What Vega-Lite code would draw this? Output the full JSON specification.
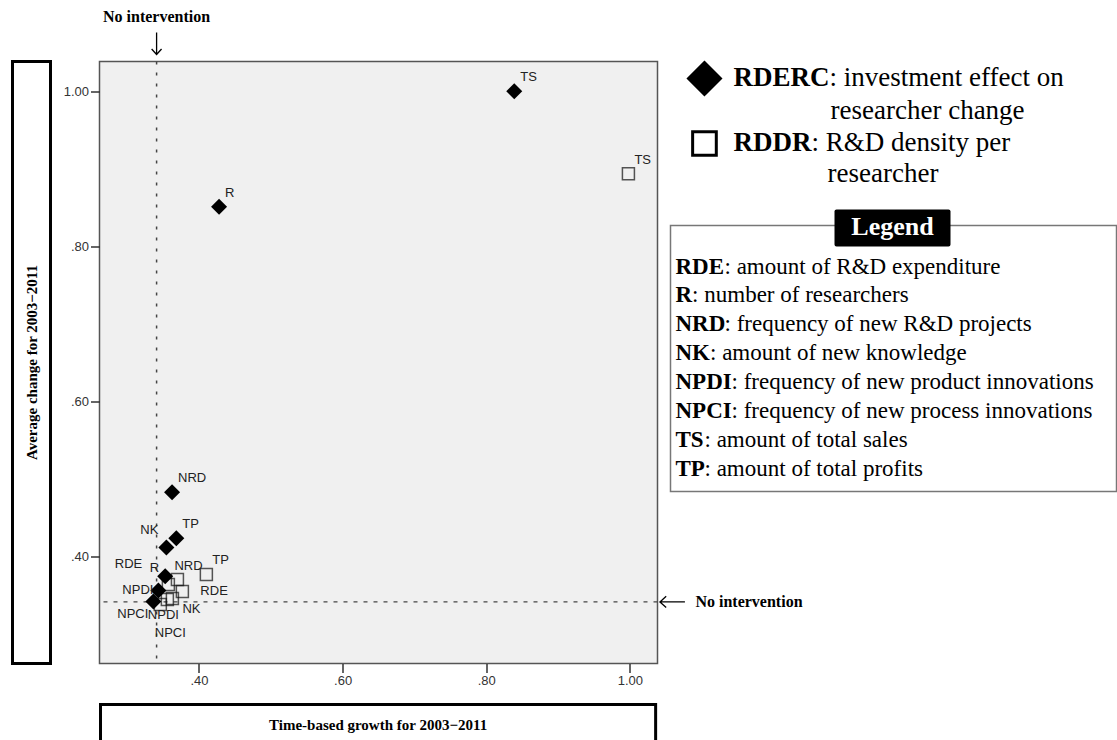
{
  "$schema": "https://vega.github.io/schema/vega-lite/v6.json",
  "padding": {"left": 10.5, "top": 7.5, "right": 0, "bottom": 0},
  "background": "white",
  "config": {
    "view": {"stroke": null},
    "axis": {"domain": false, "grid": false, "tickSize": 9, "labelPadding": 2, "labelFont": "Liberation Sans", "labelFontSize": 13, "labelColor": "#333", "tickColor": "#333", "tickWidth": 1.5}
  },
  "datasets": {
    "pts": [
      {"series": "RDERC", "key": "TS", "x": 0.839, "y": 1.0},
      {"series": "RDERC", "key": "R", "x": 0.428, "y": 0.851},
      {"series": "RDERC", "key": "NRD", "x": 0.3625, "y": 0.4826},
      {"series": "RDERC", "key": "TP", "x": 0.3685, "y": 0.4232},
      {"series": "RDERC", "key": "NK", "x": 0.3546, "y": 0.4112},
      {"series": "RDERC", "key": "RDE", "x": 0.353, "y": 0.374},
      {"series": "RDERC", "key": "NPDI", "x": 0.3435, "y": 0.3557},
      {"series": "RDERC", "key": "NPCI", "x": 0.3365, "y": 0.3415},
      {"series": "RDDR", "key": "TS", "x": 0.998, "y": 0.8935},
      {"series": "RDDR", "key": "TP", "x": 0.4103, "y": 0.3764},
      {"series": "RDDR", "key": "NRD", "x": 0.37, "y": 0.37},
      {"series": "RDDR", "key": "RDE", "x": 0.3769, "y": 0.3545},
      {"series": "RDDR", "key": "NK", "x": 0.363, "y": 0.3454},
      {"series": "RDDR", "key": "R", "x": 0.3574, "y": 0.3634},
      {"series": "RDDR", "key": "NPDI", "x": 0.356, "y": 0.3441},
      {"series": "RDDR", "key": "NPCI", "x": 0.3462, "y": 0.3377}
    ],
    "keyleg": [
      {"series": "RDERC", "row": 1, "key": "RDERC", "desc": ": investment effect on", "desc2": "researcher change"},
      {"series": "RDDR", "row": 2, "key": "RDDR", "desc": ": R&D density per", "desc2": "researcher"}
    ],
    "abbr": [
      {"row": 1, "key": "RDE", "desc": ": amount of R&D expenditure"},
      {"row": 2, "key": "R", "desc": ": number of researchers"},
      {"row": 3, "key": "NRD", "desc": ": frequency of new R&D projects"},
      {"row": 4, "key": "NK", "desc": ": amount of new knowledge"},
      {"row": 5, "key": "NPDI", "desc": ": frequency of new product innovations"},
      {"row": 6, "key": "NPCI", "desc": ": frequency of new process innovations"},
      {"row": 7, "key": "TS", "desc": ": amount of total sales"},
      {"row": 8, "key": "TP", "desc": ": amount of total profits"}
    ]
  },
  "spacing": 49,
  "bounds": "flush",
  "hconcat": [
    {
      "width": 38, "height": 602,
      "view": {"stroke": "black", "strokeWidth": 3},
      "data": {"values": [{"t": "Average change for 2003−2011"}]},
      "mark": {"type": "text", "angle": 270, "font": "Liberation Serif", "fontWeight": "bold", "fontSize": 15, "align": "center", "baseline": "middle", "color": "black"},
      "encoding": {
        "text": {"field": "t"},
        "x": {"datum": 0.5, "type": "quantitative", "scale": {"domain": [0, 1]}, "axis": null},
        "y": {"datum": 0.5, "type": "quantitative", "scale": {"domain": [0, 1]}, "axis": null}
      }
    },
    {
      "spacing": 13,
      "bounds": "flush",
      "hconcat": [
        {
          "width": 558, "height": 602,
          "view": {"fill": "#f0f0f0", "stroke": "#555", "strokeWidth": 1.5},
          "layer": [
            {
              "data": {"values": [{}]},
              "mark": {"type": "rule", "strokeDash": [3, 8], "color": "#444", "strokeWidth": 1.5},
              "encoding": {"x": {"datum": 0.341, "type": "quantitative", "scale": {"domain": [0.2615, 1.0385], "nice": false, "zero": false}, "axis": {"values": [0.4, 0.6, 0.8, 1.0], "labelExpr": "datum.value < 0.999 ? replace(format(datum.value, '.2f'), '0.', '.') : format(datum.value, '.2f')", "title": null}}}
            },
            {
              "data": {"values": [{}]},
              "mark": {"type": "rule", "strokeDash": [4, 6], "color": "#444", "strokeWidth": 1.3},
              "encoding": {"y": {"datum": 0.341, "type": "quantitative", "scale": {"domain": [0.2615, 1.0385], "nice": false, "zero": false}, "axis": {"values": [0.4, 0.6, 0.8, 1.0], "labelExpr": "datum.value < 0.999 ? replace(format(datum.value, '.2f'), '0.', '.') : format(datum.value, '.2f')", "title": null}}}
            },
            {
              "data": {"name": "pts"},
              "transform": [{"filter": "datum.series == 'RDDR'"}],
              "mark": {"type": "point", "shape": "square", "filled": false, "size": 144, "stroke": "#111", "strokeWidth": 1.5},
              "encoding": {
                "x": {"field": "x", "type": "quantitative"},
                "y": {"field": "y", "type": "quantitative"}
              }
            },
            {
              "data": {"name": "pts"},
              "transform": [{"filter": "datum.series == 'RDERC'"}],
              "mark": {"type": "point", "shape": "diamond", "filled": true, "size": 256, "color": "black", "opacity": 1},
              "encoding": {
                "x": {"field": "x", "type": "quantitative"},
                "y": {"field": "y", "type": "quantitative"}
              }
            },
            {
              "data": {"name": "pts"},
              "transform": [{"filter": "datum.key == 'TS' || (datum.series == 'RDERC' && (datum.key == 'R' || datum.key == 'NRD' || datum.key == 'TP')) || (datum.series == 'RDDR' && datum.key == 'TP')"}],
              "mark": {"type": "text", "font": "Liberation Sans", "fontSize": 13, "color": "#222", "align": "left", "baseline": "middle", "dx": 6, "dy": -14},
              "encoding": {"x": {"field": "x", "type": "quantitative"}, "y": {"field": "y", "type": "quantitative"}, "text": {"field": "key"}}
            },
            {
              "data": {"name": "pts"},
              "transform": [{"filter": "datum.series == 'RDERC' && datum.key == 'NK'"}],
              "mark": {"type": "text", "font": "Liberation Sans", "fontSize": 13, "color": "#222", "align": "right", "baseline": "middle", "dx": -8, "dy": -18},
              "encoding": {"x": {"field": "x", "type": "quantitative"}, "y": {"field": "y", "type": "quantitative"}, "text": {"field": "key"}}
            },
            {
              "data": {"name": "pts"},
              "transform": [{"filter": "datum.series == 'RDERC' && datum.key == 'RDE'"}],
              "mark": {"type": "text", "font": "Liberation Sans", "fontSize": 13, "color": "#222", "align": "right", "baseline": "middle", "dx": -23, "dy": -12},
              "encoding": {"x": {"field": "x", "type": "quantitative"}, "y": {"field": "y", "type": "quantitative"}, "text": {"field": "key"}}
            },
            {
              "data": {"name": "pts"},
              "transform": [{"filter": "datum.series == 'RDDR' && datum.key == 'R'"}],
              "mark": {"type": "text", "font": "Liberation Sans", "fontSize": 13, "color": "#222", "align": "center", "baseline": "middle", "dx": -14, "dy": -17},
              "encoding": {"x": {"field": "x", "type": "quantitative"}, "y": {"field": "y", "type": "quantitative"}, "text": {"field": "key"}}
            },
            {
              "data": {"name": "pts"},
              "transform": [{"filter": "datum.series == 'RDDR' && datum.key == 'NRD'"}],
              "mark": {"type": "text", "font": "Liberation Sans", "fontSize": 13, "color": "#222", "align": "left", "baseline": "middle", "dx": -3, "dy": -13},
              "encoding": {"x": {"field": "x", "type": "quantitative"}, "y": {"field": "y", "type": "quantitative"}, "text": {"field": "key"}}
            },
            {
              "data": {"name": "pts"},
              "transform": [{"filter": "datum.series == 'RDDR' && datum.key == 'RDE'"}],
              "mark": {"type": "text", "font": "Liberation Sans", "fontSize": 13, "color": "#222", "align": "left", "baseline": "middle", "dx": 18, "dy": 0},
              "encoding": {"x": {"field": "x", "type": "quantitative"}, "y": {"field": "y", "type": "quantitative"}, "text": {"field": "key"}}
            },
            {
              "data": {"name": "pts"},
              "transform": [{"filter": "datum.series == 'RDDR' && datum.key == 'NK'"}],
              "mark": {"type": "text", "font": "Liberation Sans", "fontSize": 13, "color": "#222", "align": "left", "baseline": "middle", "dx": 10, "dy": 11},
              "encoding": {"x": {"field": "x", "type": "quantitative"}, "y": {"field": "y", "type": "quantitative"}, "text": {"field": "key"}}
            },
            {
              "data": {"name": "pts"},
              "transform": [{"filter": "datum.series == 'RDERC' && datum.key == 'NPDI'"}],
              "mark": {"type": "text", "font": "Liberation Sans", "fontSize": 13, "color": "#222", "align": "right", "baseline": "middle", "dx": -5, "dy": -1},
              "encoding": {"x": {"field": "x", "type": "quantitative"}, "y": {"field": "y", "type": "quantitative"}, "text": {"field": "key"}}
            },
            {
              "data": {"name": "pts"},
              "transform": [{"filter": "datum.series == 'RDERC' && datum.key == 'NPCI'"}],
              "mark": {"type": "text", "font": "Liberation Sans", "fontSize": 13, "color": "#222", "align": "right", "baseline": "middle", "dx": -5, "dy": 12},
              "encoding": {"x": {"field": "x", "type": "quantitative"}, "y": {"field": "y", "type": "quantitative"}, "text": {"field": "key"}}
            },
            {
              "data": {"name": "pts"},
              "transform": [{"filter": "datum.series == 'RDDR' && datum.key == 'NPDI'"}],
              "mark": {"type": "text", "font": "Liberation Sans", "fontSize": 13, "color": "#222", "align": "center", "baseline": "middle", "dx": -4, "dy": 15},
              "encoding": {"x": {"field": "x", "type": "quantitative"}, "y": {"field": "y", "type": "quantitative"}, "text": {"field": "key"}}
            },
            {
              "data": {"name": "pts"},
              "transform": [{"filter": "datum.series == 'RDDR' && datum.key == 'NPCI'"}],
              "mark": {"type": "text", "font": "Liberation Sans", "fontSize": 13, "color": "#222", "align": "center", "baseline": "middle", "dx": 10, "dy": 29},
              "encoding": {"x": {"field": "x", "type": "quantitative"}, "y": {"field": "y", "type": "quantitative"}, "text": {"field": "key"}}
            },
            {
              "data": {"values": [{"t": "No intervention"}]},
              "mark": {"type": "text", "font": "Liberation Serif", "fontWeight": "bold", "fontSize": 16, "color": "black", "align": "center", "baseline": "middle", "dy": -45},
              "encoding": {"x": {"datum": 0.341, "type": "quantitative"}, "y": {"datum": 1.0385, "type": "quantitative"}, "text": {"field": "t"}}
            },
            {
              "data": {"values": [{"t": "No intervention"}]},
              "mark": {"type": "text", "font": "Liberation Serif", "fontWeight": "bold", "fontSize": 16, "color": "black", "align": "left", "baseline": "middle", "dx": 23},
              "encoding": {"x": {"datum": 1.0593, "type": "quantitative"}, "y": {"datum": 0.341, "type": "quantitative"}, "text": {"field": "t"}}
            },
            {
              "data": {"values": [{}]},
              "mark": {"type": "point", "shape": "M0,-1L0,1M-0.45,0.5L0,1L0.45,0.5", "filled": false, "size": 484, "stroke": "black", "strokeWidth": 1.3, "opacity": 1},
              "encoding": {"x": {"datum": 0.341, "type": "quantitative"}, "y": {"datum": 1.0617, "type": "quantitative"}}
            },
            {
              "data": {"values": [{}]},
              "mark": {"type": "point", "shape": "M1,0L-1,0M-0.5,-0.45L-1,0L-0.5,0.45", "filled": false, "size": 625, "stroke": "black", "strokeWidth": 1.3, "opacity": 1},
              "encoding": {"x": {"datum": 1.0593, "type": "quantitative"}, "y": {"datum": 0.341, "type": "quantitative"}}
            },
            {
              "data": {"values": [{}]},
              "mark": {"type": "rect", "filled": false, "stroke": "black", "strokeWidth": 3},
              "encoding": {
                "x": {"datum": 0.2629, "type": "quantitative"},
                "x2": {"datum": 1.0359},
                "y": {"datum": 0.2085, "type": "quantitative"},
                "y2": {"datum": 0.135}
              }
            },
            {
              "data": {"values": [{"t": "Time-based growth for 2003−2011"}]},
              "mark": {"type": "text", "font": "Liberation Serif", "fontWeight": "bold", "fontSize": 15, "align": "center", "baseline": "middle", "color": "black"},
              "encoding": {
                "text": {"field": "t"},
                "x": {"datum": 0.6494, "type": "quantitative"},
                "y": {"datum": 0.1815, "type": "quantitative"}
              }
            }
          ]
        },
        {
          "width": 447, "height": 430,
          "resolve": {"scale": {"y": "independent"}},
          "layer": [
            {
              "data": {"name": "keyleg"},
              "transform": [{"filter": "datum.series == 'RDERC'"}],
              "mark": {"type": "point", "shape": "diamond", "filled": true, "size": 1300, "color": "black", "opacity": 1},
              "encoding": {
                "x": {"datum": 0.076, "type": "quantitative", "scale": {"domain": [0, 1]}, "axis": null},
                "y": {"field": "row", "type": "quantitative", "scale": {"domain": [0.7385, 7.354], "reverse": true, "nice": false, "zero": false}, "axis": null}
              }
            },
            {
              "data": {"name": "keyleg"},
              "transform": [{"filter": "datum.series == 'RDDR'"}],
              "mark": {"type": "point", "shape": "square", "filled": false, "size": 560, "stroke": "black", "strokeWidth": 3, "opacity": 1},
              "encoding": {
                "x": {"datum": 0.076, "type": "quantitative", "scale": {"domain": [0, 1]}, "axis": null},
                "y": {"field": "row", "type": "quantitative", "scale": {"domain": [0.7385, 7.354], "reverse": true, "nice": false, "zero": false}, "axis": null}
              }
            },
            {
              "data": {"name": "keyleg"},
              "mark": {"type": "text", "font": "Liberation Serif", "fontWeight": "bold", "fontSize": 27, "color": "black", "align": "left", "baseline": "middle", "dx": 63},
              "encoding": {
                "x": {"datum": 0, "type": "quantitative", "scale": {"domain": [0, 1]}, "axis": null},
                "y": {"field": "row", "type": "quantitative", "scale": {"domain": [0.7385, 7.354], "reverse": true, "nice": false, "zero": false}, "axis": null},
                "text": {"field": "key"}
              }
            },
            {
              "data": {"name": "keyleg"},
              "transform": [{"filter": "datum.series == 'RDERC'"}],
              "mark": {"type": "text", "font": "Liberation Serif", "fontSize": 27, "color": "black", "align": "left", "baseline": "middle", "dx": 159},
              "encoding": {
                "x": {"datum": 0, "type": "quantitative", "scale": {"domain": [0, 1]}, "axis": null},
                "y": {"field": "row", "type": "quantitative", "scale": {"domain": [0.7385, 7.354], "reverse": true, "nice": false, "zero": false}, "axis": null},
                "text": {"field": "desc"}
              }
            },
            {
              "data": {"name": "keyleg"},
              "transform": [{"filter": "datum.series == 'RDDR'"}],
              "mark": {"type": "text", "font": "Liberation Serif", "fontSize": 27, "color": "black", "align": "left", "baseline": "middle", "dx": 141},
              "encoding": {
                "x": {"datum": 0, "type": "quantitative", "scale": {"domain": [0, 1]}, "axis": null},
                "y": {"field": "row", "type": "quantitative", "scale": {"domain": [0.7385, 7.354], "reverse": true, "nice": false, "zero": false}, "axis": null},
                "text": {"field": "desc"}
              }
            },
            {
              "data": {"name": "keyleg"},
              "transform": [{"filter": "datum.series == 'RDERC'"}],
              "mark": {"type": "text", "font": "Liberation Serif", "fontSize": 27, "color": "black", "align": "left", "baseline": "middle", "dx": 160, "dy": 33},
              "encoding": {
                "x": {"datum": 0, "type": "quantitative", "scale": {"domain": [0, 1]}, "axis": null},
                "y": {"field": "row", "type": "quantitative", "scale": {"domain": [0.7385, 7.354], "reverse": true, "nice": false, "zero": false}, "axis": null},
                "text": {"field": "desc2"}
              }
            },
            {
              "data": {"name": "keyleg"},
              "transform": [{"filter": "datum.series == 'RDDR'"}],
              "mark": {"type": "text", "font": "Liberation Serif", "fontSize": 27, "color": "black", "align": "left", "baseline": "middle", "dx": 157, "dy": 31},
              "encoding": {
                "x": {"datum": 0, "type": "quantitative", "scale": {"domain": [0, 1]}, "axis": null},
                "y": {"field": "row", "type": "quantitative", "scale": {"domain": [0.7385, 7.354], "reverse": true, "nice": false, "zero": false}, "axis": null},
                "text": {"field": "desc2"}
              }
            },
            {
              "data": {"values": [{}]},
              "mark": {"type": "rect", "filled": false, "stroke": "#777", "strokeWidth": 1.5},
              "encoding": {
                "x": {"datum": 0, "type": "quantitative", "scale": {"domain": [0, 1]}, "axis": null},
                "x2": {"datum": 0.9978},
                "y": {"datum": -0.4187, "type": "quantitative", "scale": {"domain": [-6.0934, 8.785], "reverse": true, "nice": false, "zero": false}, "axis": null},
                "y2": {"datum": 8.785}
              }
            },
            {
              "data": {"values": [{}]},
              "mark": {"type": "rect", "color": "black", "cornerRadius": 2},
              "encoding": {
                "x": {"datum": 0.3669, "type": "quantitative", "scale": {"domain": [0, 1]}, "axis": null},
                "x2": {"datum": 0.6264},
                "y": {"datum": -0.972, "type": "quantitative", "scale": {"domain": [-6.0934, 8.785], "reverse": true, "nice": false, "zero": false}, "axis": null},
                "y2": {"datum": 0.308}
              }
            },
            {
              "data": {"values": [{"t": "Legend"}]},
              "mark": {"type": "text", "font": "Liberation Serif", "fontWeight": "bold", "fontSize": 26, "color": "white", "align": "center", "baseline": "middle"},
              "encoding": {
                "x": {"datum": 0.4966, "type": "quantitative", "scale": {"domain": [0, 1]}, "axis": null},
                "y": {"datum": -0.35, "type": "quantitative", "scale": {"domain": [-6.0934, 8.785], "reverse": true, "nice": false, "zero": false}, "axis": null},
                "text": {"field": "t"}
              }
            },
            {
              "data": {"name": "abbr"},
              "mark": {"type": "text", "font": "Liberation Serif", "fontWeight": "bold", "fontSize": 23, "color": "black", "align": "left", "baseline": "middle", "dx": 5},
              "encoding": {
                "x": {"datum": 0, "type": "quantitative", "scale": {"domain": [0, 1]}, "axis": null},
                "y": {"field": "row", "type": "quantitative", "scale": {"domain": [-6.0934, 8.785], "reverse": true, "nice": false, "zero": false}, "axis": null},
                "text": {"field": "key"}
              }
            },
            {
              "data": {"name": "abbr"},
              "transform": [{"filter": "datum.key == 'RDE' || datum.key == 'NRD'"}],
              "mark": {"type": "text", "font": "Liberation Serif", "fontSize": 23, "color": "black", "align": "left", "baseline": "middle", "dx": 54},
              "encoding": {
                "x": {"datum": 0, "type": "quantitative", "scale": {"domain": [0, 1]}, "axis": null},
                "y": {"field": "row", "type": "quantitative", "scale": {"domain": [-6.0934, 8.785], "reverse": true, "nice": false, "zero": false}, "axis": null},
                "text": {"field": "desc"}
              }
            },
            {
              "data": {"name": "abbr"},
              "transform": [{"filter": "datum.key == 'R'"}],
              "mark": {"type": "text", "font": "Liberation Serif", "fontSize": 23, "color": "black", "align": "left", "baseline": "middle", "dx": 21.6},
              "encoding": {
                "x": {"datum": 0, "type": "quantitative", "scale": {"domain": [0, 1]}, "axis": null},
                "y": {"field": "row", "type": "quantitative", "scale": {"domain": [-6.0934, 8.785], "reverse": true, "nice": false, "zero": false}, "axis": null},
                "text": {"field": "desc"}
              }
            },
            {
              "data": {"name": "abbr"},
              "transform": [{"filter": "datum.key == 'NK'"}],
              "mark": {"type": "text", "font": "Liberation Serif", "fontSize": 23, "color": "black", "align": "left", "baseline": "middle", "dx": 39.5},
              "encoding": {
                "x": {"datum": 0, "type": "quantitative", "scale": {"domain": [0, 1]}, "axis": null},
                "y": {"field": "row", "type": "quantitative", "scale": {"domain": [-6.0934, 8.785], "reverse": true, "nice": false, "zero": false}, "axis": null},
                "text": {"field": "desc"}
              }
            },
            {
              "data": {"name": "abbr"},
              "transform": [{"filter": "datum.key == 'NPDI' || datum.key == 'NPCI'"}],
              "mark": {"type": "text", "font": "Liberation Serif", "fontSize": 23, "color": "black", "align": "left", "baseline": "middle", "dx": 61},
              "encoding": {
                "x": {"datum": 0, "type": "quantitative", "scale": {"domain": [0, 1]}, "axis": null},
                "y": {"field": "row", "type": "quantitative", "scale": {"domain": [-6.0934, 8.785], "reverse": true, "nice": false, "zero": false}, "axis": null},
                "text": {"field": "desc"}
              }
            },
            {
              "data": {"name": "abbr"},
              "transform": [{"filter": "datum.key == 'TS' || datum.key == 'TP'"}],
              "mark": {"type": "text", "font": "Liberation Serif", "fontSize": 23, "color": "black", "align": "left", "baseline": "middle", "dx": 34},
              "encoding": {
                "x": {"datum": 0, "type": "quantitative", "scale": {"domain": [0, 1]}, "axis": null},
                "y": {"field": "row", "type": "quantitative", "scale": {"domain": [-6.0934, 8.785], "reverse": true, "nice": false, "zero": false}, "axis": null},
                "text": {"field": "desc"}
              }
            }
          ]
        }
      ]
    }
  ]
}
